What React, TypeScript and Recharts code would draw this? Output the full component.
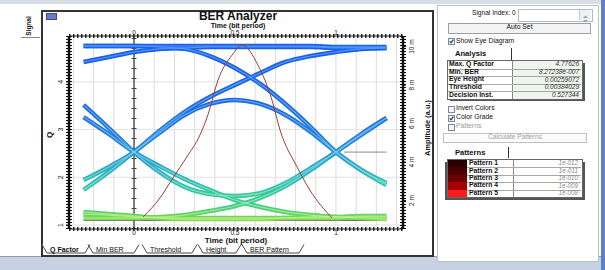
import { LineChart, Line, XAxis, YAxis, ReferenceLine } from 'recharts';

// time axis of the eye traces (bit periods)
const TIME = [-0.25, -0.125, 0, 0.125, 0.25, 0.375, 0.5, 0.625, 0.75, 0.875, 1, 1.125, 1.25];

// eye diagram traces, amplitude in mV (right axis)
const HIGH_FLAT = [10.03, 10.03, 10.03, 10.03, 10.03, 10.03, 10.03, 10.03, 10.03, 10.03, 9.98, 9.98, 9.98];
const HIGH_DIP = [9.2, 9.46, 9.72, 9.88, 9.93, 9.98, 9.98, 9.98, 9.98, 9.98, 9.93, 9.93, 9.93];
const FALL_LATE = [10.03, 10.03, 10.03, 9.98, 9.88, 9.51, 8.89, 8.06, 7.02, 5.82, 4.52, 3.59, 2.91];
const RISE_EARLY = [3.07, 3.75, 4.52, 5.62, 6.6, 7.38, 8.01, 8.63, 9.2, 9.51, 9.72, 9.88, 9.93];
const ARC_UPPER = [2.55, 3.49, 4.52, 5.51, 6.45, 7.02, 7.23, 7.02, 6.45, 5.57, 4.52, 3.59, 2.81];
const ARC_LOWER = [6.97, 5.77, 4.52, 3.49, 2.71, 2.34, 2.24, 2.39, 2.91, 3.69, 4.52, 5.46, 6.29];
const FALL_EARLY = [6.34, 5.46, 4.52, 3.8, 3.12, 2.55, 2.03, 1.67, 1.41, 1.25, 1.15, 1.1, 1.04];
const RISE_LATE = [1.1, 1.1, 1.1, 1.15, 1.25, 1.46, 1.72, 2.14, 2.76, 3.59, 4.52, 5.41, 6.29];
const LOW_A = [1.3, 1.25, 1.15, 1.1, 1.1, 1.1, 1.1, 1.1, 1.1, 1.15, 1.15, 1.2, 1.2];
const LOW_B = [1.41, 1.3, 1.2, 1.1, 1.04, 1.04, 1.04, 1.04, 1.1, 1.1, 1.1, 1.15, 1.15];
const LOW_BASE = [0.99, 0.99, 0.99, 0.99, 0.99, 0.99, 0.99, 0.99, 0.99, 0.99, 0.99, 0.99, 0.99];

const EYE_TRACES = [
  HIGH_FLAT, HIGH_DIP, FALL_LATE, RISE_EARLY, ARC_UPPER, ARC_LOWER,
  FALL_EARLY, RISE_LATE, LOW_B, LOW_A,
];

// Q factor vs decision time (left axis)
const Q_TIME = [0.045, 0.129, 0.193, 0.262, 0.327, 0.366, 0.416, 0.485, 0.535, 0.614, 0.683, 0.723, 0.807, 0.871, 0.98];
const Q_VALUE = [1.17, 1.57, 1.99, 2.43, 2.89, 3.31, 4.04, 4.56, 4.77, 4.35, 3.62, 2.99, 2.22, 1.73, 1.15];

const T_DOMAIN = [-0.322, 1.332];
const Q_DOMAIN = [0.916, 4.962];
const AMP_DOMAIN = [0.525, 10.55];
const T_TICKS = [0, 0.5, 1];
const Q_TICKS = [1, 2, 3, 4];
const AMP_TICKS = [2, 4, 6, 8, 10];
const GRID_T = [-0.3, -0.2, -0.1, 0, 0.1, 0.2, 0.3, 0.4, 0.5, 0.6, 0.7, 0.8, 0.9, 1, 1.1, 1.2, 1.3];

const THRESHOLD_MARK = { from: 1.04, to: 1.25, level: 4.52 };

const ANALYSIS_LABELS = ['Max. Q Factor', 'Min. BER', 'Eye Height', 'Threshold', 'Decision Inst.'];
const ANALYSIS_VALUES = ['4.77626', '8.27238e-007', '0.00259072', '0.00384029', '0.527344'];
const PATTERN_LABELS = ['Pattern 1', 'Pattern 2', 'Pattern 3', 'Pattern 4', 'Pattern 5'];
const PATTERN_BER = ['1e-012', '1e-011', '1e-010', '1e-009', '1e-008'];
const PATTERN_COLORS = ['#2a0000', '#4a0000', '#6e0000', '#a80000', '#ff1a1a'];

const TABS = [
  { label: 'Q Factor', from: 50, to: 82 },
  { label: 'Min BER', from: 96, to: 131 },
  { label: 'Threshold', from: 150, to: 189 },
  { label: 'Height', from: 206, to: 233 },
  { label: 'BER Pattern', from: 250, to: 296 },
];

const FONT = '"Liberation Sans", Arial, Helvetica, sans-serif';

const eyeData = EYE_TRACES.map((vals) => TIME.map((t, i) => ({ t, v: vals[i] })));
const baseData = TIME.map((t, i) => ({ t, v: LOW_BASE[i] }));
const qData = Q_TIME.map((t, i) => ({ t, q: Q_VALUE[i] }));

const Txt = ({ x, cy, size = 6.8, bold = false, italic = false, color = '#111', w, align, children }: any) => (
  <div
    style={{
      position: 'absolute', left: x, top: cy - size * 0.56, fontSize: size, lineHeight: 1,
      fontWeight: bold ? 700 : 400, fontStyle: italic ? 'italic' : 'normal', color,
      whiteSpace: 'nowrap', width: w, textAlign: align,
    }}
  >
    {children}
  </div>
);

const RotTxt = ({ cx, cy, size = 7, bold = false, children }: any) => (
  <div
    style={{
      position: 'absolute', left: cx, top: cy, fontSize: size, lineHeight: 1,
      fontWeight: bold ? 700 : 400, whiteSpace: 'nowrap', color: '#111',
      transform: 'translate(-50%, -50%) rotate(-90deg)',
    }}
  >
    {children}
  </div>
);

const Chk = ({ x, y, checked = false }: any) => (
  <div style={{ position: 'absolute', left: x, top: y, width: 5, height: 5, border: '1px solid #7d8b99', background: '#f2f6fb' }}>
    {checked && (
      <svg width={5} height={5} style={{ position: 'absolute', left: 0, top: 0 }}>
        <path d="M0.7 2.4 L2 3.9 L4.4 0.7" stroke="#1f3a8a" strokeWidth={1.2} fill="none" />
      </svg>
    )}
  </div>
);

const QTick = (props: any) => {
  const { x, y, payload } = props;
  const px = x - 1;
  return (
    <text x={px} y={y} transform={`rotate(-90 ${px} ${y})`} textAnchor="middle" fontSize={7} fill="#222" fontFamily={FONT}>
      {payload.value}
    </text>
  );
};

const AmpTick = (props: any) => {
  const { x, y, payload } = props;
  const px = x + 6;
  return (
    <text x={px} y={y} transform={`rotate(-90 ${px} ${y})`} textAnchor="middle" fontSize={6.5} fill="#222" fontFamily={FONT}>
      {`${payload.value} m`}
    </text>
  );
};

// plot top/bottom in chart coordinates are 25 and 218
const TopTick = (props: any) => (
  <text x={props.x} y={23.6} textAnchor="middle" fontSize={6.5} fill="#222" fontFamily={FONT}>
    {props.payload.value}
  </text>
);

const BottomTick = (props: any) => (
  <text x={props.x} y={224} textAnchor="middle" fontSize={6.5} fill="#222" fontFamily={FONT}>
    {props.payload.value}
  </text>
);

const EyeChart = () => (
  <LineChart width={390} height={243} margin={{ top: 0, right: 0, bottom: 0, left: 0 }}>
    <defs>
      <linearGradient id="eyeGrad" gradientUnits="userSpaceOnUse" x1="0" y1="25" x2="0" y2="218">
        <stop offset="0.05" stopColor="#1d5ee8" />
        <stop offset="0.33" stopColor="#2266e0" />
        <stop offset="0.54" stopColor="#2a7ed8" />
        <stop offset="0.67" stopColor="#2ea8c8" />
        <stop offset="0.77" stopColor="#33c0b0" />
        <stop offset="0.88" stopColor="#3ccf8a" />
        <stop offset="0.94" stopColor="#70d658" />
        <stop offset="1" stopColor="#c8e43c" />
      </linearGradient>
      <linearGradient id="eyeHi" gradientUnits="userSpaceOnUse" x1="0" y1="25" x2="0" y2="218">
        <stop offset="0.05" stopColor="#58a8ff" />
        <stop offset="0.5" stopColor="#6cc4ff" />
        <stop offset="0.8" stopColor="#8ef0d0" />
        <stop offset="1" stopColor="#e0f470" />
      </linearGradient>
    </defs>
    <XAxis
      xAxisId="b" type="number" dataKey="t" domain={T_DOMAIN} ticks={T_TICKS} height={25}
      allowDataOverflow axisLine={{ stroke: '#222' }} tickLine={false} tick={BottomTick}
    />
    <XAxis
      xAxisId="top" orientation="top" type="number" dataKey="t" domain={T_DOMAIN} ticks={T_TICKS}
      height={25} allowDataOverflow axisLine={{ stroke: '#222' }} tickLine={false} tick={TopTick}
    />
    <YAxis
      yAxisId="q" type="number" domain={Q_DOMAIN} ticks={Q_TICKS} width={27} allowDataOverflow
      axisLine={{ stroke: '#111', strokeWidth: 2.5 }} tickLine={{ stroke: '#111' }} tickSize={3}
      tickMargin={2} tick={QTick}
    />
    <YAxis
      yAxisId="amp" orientation="right" type="number" domain={AMP_DOMAIN} ticks={AMP_TICKS} width={29}
      allowDataOverflow axisLine={{ stroke: '#111', strokeWidth: 2.5 }} tickLine={{ stroke: '#111' }}
      tickSize={3} tickMargin={2} tick={AmpTick}
    />
    {GRID_T.map((t) => (
      <ReferenceLine key={`g${t}`} xAxisId="b" yAxisId="amp" x={t} stroke="#dcdcdc" strokeWidth={1} />
    ))}
    {Q_TICKS.map((q) => (
      <ReferenceLine key={`h${q}`} xAxisId="top" yAxisId="q" y={q} stroke="#e2e2e2" strokeWidth={1} />
    ))}
    <ReferenceLine xAxisId="b" yAxisId="amp" x={0} stroke="#444" strokeWidth={1.3} />
    <ReferenceLine xAxisId="b" yAxisId="amp" x={0} stroke="#444" strokeWidth={5} strokeDasharray="1 9" />
    <ReferenceLine xAxisId="top" yAxisId="q" y={Q_DOMAIN[1]} stroke="#222" strokeWidth={4} strokeDasharray="1.5 2.5" ifOverflow="visible" />
    <ReferenceLine xAxisId="top" yAxisId="q" y={Q_DOMAIN[0]} stroke="#222" strokeWidth={4} strokeDasharray="1.5 2.5" ifOverflow="visible" />
    <ReferenceLine xAxisId="top" yAxisId="q" x={T_DOMAIN[0]} stroke="#111" strokeWidth={6} strokeDasharray="1 2" ifOverflow="visible" />
    <ReferenceLine xAxisId="top" yAxisId="q" x={T_DOMAIN[1]} stroke="#111" strokeWidth={6} strokeDasharray="1 2" ifOverflow="visible" />
    <ReferenceLine
      xAxisId="b" yAxisId="amp" stroke="#888" strokeWidth={1}
      segment={[{ x: THRESHOLD_MARK.from, y: THRESHOLD_MARK.level }, { x: THRESHOLD_MARK.to, y: THRESHOLD_MARK.level }]}
    />
    <Line
      data={baseData} xAxisId="b" yAxisId="amp" dataKey="v" type="monotone" stroke="#3c4a3c"
      strokeWidth={1.6} dot={false} isAnimationActive={false}
    />
    {eyeData.map((d, i) => (
      <Line
        key={`e${i}`} data={d} xAxisId="b" yAxisId="amp" dataKey="v" type="monotone"
        stroke="url(#eyeGrad)" strokeWidth={4.5} dot={false} isAnimationActive={false}
      />
    ))}
    {eyeData.map((d, i) => (
      <Line
        key={`h${i}`} data={d} xAxisId="b" yAxisId="amp" dataKey="v" type="monotone"
        stroke="url(#eyeHi)" strokeWidth={1.2} strokeOpacity={0.75} dot={false} isAnimationActive={false}
      />
    ))}
    <Line
      data={qData} xAxisId="top" yAxisId="q" dataKey="q" type="monotone" stroke="#a23b33"
      strokeWidth={1} dot={false} isAnimationActive={false}
    />
  </LineChart>
);

const Tabs = () => (
  <svg width={320} height={12} style={{ position: 'absolute', left: 0, top: 243 }}>
    {TABS.map((tab, i) => {
      const x0 = tab.from - 3;
      const x1 = tab.to + 3;
      const sel = i === 0;
      return (
        <path
          key={tab.label}
          d={`M${x0 - 5} 1.5 L${x0} 10 L${x1} 10 L${x1 + 5} 1.5`}
          fill={sel ? '#fff' : 'none'} stroke="#333" strokeWidth={0.9}
        />
      );
    })}
    {TABS.map((tab, i) => (
      <text key={`t${i}`} x={tab.from} y={9.3} fontSize={7} fontWeight={i === 0 ? 700 : 400} fill="#111" fontFamily={FONT}>
        {tab.label}
      </text>
    ))}
  </svg>
);

const RightPanel = () => (
  <>
    <div style={{ position: 'absolute', left: 437, top: 5, width: 160, height: 255, border: '1px solid #b9c0c8', background: '#fff' }} />
    <Txt x={472} cy={14} size={6.6}>Signal Index: 0</Txt>
    <div style={{ position: 'absolute', left: 518, top: 9, width: 73, height: 11, border: '1px solid #b4bcc4', background: '#fff' }} />
    <div style={{ position: 'absolute', left: 579, top: 10, width: 11, height: 10, background: '#eef1f4', borderLeft: '1px solid #c4cad0' }}>
      <svg width={11} height={10}>
        <path d="M3 4 L5.5 1.5 L8 4 Z" fill="#98a0a8" />
        <path d="M3 6 L5.5 8.5 L8 6 Z" fill="#98a0a8" />
      </svg>
    </div>
    <div style={{ position: 'absolute', left: 448, top: 23, width: 141, height: 9, border: '1px solid #9aa0a8', background: '#f4f4f4' }} />
    <Txt x={448} cy={28} size={6.8} w={143} align="center">Auto Set</Txt>
    <Chk x={448} y={38} checked />
    <Txt x={456} cy={41.5} size={6.8}>Show Eye Diagram</Txt>
    <Txt x={455} cy={54} size={7.6} bold>Analysis</Txt>
    <div style={{ position: 'absolute', left: 511, top: 48, width: 1, height: 12, background: '#333' }} />

    <div style={{ position: 'absolute', left: 450, top: 63, width: 135, height: 38, background: '#555' }} />
    <div style={{ position: 'absolute', left: 447, top: 60, width: 134, height: 38, border: '1px solid #666', background: '#fff' }} />
    <div style={{ position: 'absolute', left: 512, top: 61, width: 69, height: 38, background: '#eef5ec' }} />
    <div style={{ position: 'absolute', left: 512, top: 61, width: 1, height: 38, background: '#888' }} />
    {ANALYSIS_LABELS.map((lab, i) => (
      <div key={lab}>
        {i > 0 && <div style={{ position: 'absolute', left: 448, top: 61 + i * 7.6, width: 133, height: 1, background: '#a8a8a8' }} />}
        <Txt x={449} cy={65 + i * 7.6} size={6.8} bold>{lab}</Txt>
        <Txt x={513} cy={65 + i * 7.6} size={6.5} italic color="#333" w={66} align="right">{ANALYSIS_VALUES[i]}</Txt>
      </div>
    ))}

    <Chk x={448} y={106} />
    <Txt x={456} cy={109} size={6.8}>Invert Colors</Txt>
    <Chk x={448} y={115} checked />
    <Txt x={456} cy={118} size={6.8}>Color Grade</Txt>
    <Chk x={448} y={124} />
    <Txt x={456} cy={127} size={6.8} color="#9a9a9a">Patterns</Txt>

    <div style={{ position: 'absolute', left: 443, top: 133, width: 142, height: 8, border: '1px solid #c0c0c0', background: '#fbfbfb' }} />
    <Txt x={443} cy={137.5} size={6.6} color="#a0a0a0" w={144} align="center">Calculate Patterns</Txt>
    <Txt x={455} cy={153} size={7.6} bold>Patterns</Txt>
    <div style={{ position: 'absolute', left: 508, top: 147, width: 1, height: 11, background: '#333' }} />

    <div style={{ position: 'absolute', left: 445, top: 162, width: 140, height: 38, background: '#555' }} />
    <div style={{ position: 'absolute', left: 447, top: 159, width: 134, height: 37, border: '1px solid #666', background: '#fff' }} />
    <div style={{ position: 'absolute', left: 513, top: 160, width: 1, height: 37, background: '#888' }} />
    {PATTERN_LABELS.map((lab, i) => (
      <div key={lab}>
        <div style={{ position: 'absolute', left: 448, top: 160 + i * 7.4, width: 19, height: 7.4, background: PATTERN_COLORS[i] }} />
        {i > 0 && <div style={{ position: 'absolute', left: 467, top: 160 + i * 7.4, width: 114, height: 1, background: '#a8a8a8' }} />}
        <Txt x={469} cy={164 + i * 7.4} size={6.8} bold>{lab}</Txt>
        <Txt x={514} cy={164 + i * 7.4} size={6.3} italic color="#8a8a8a" w={64} align="right">{PATTERN_BER[i]}</Txt>
      </div>
    ))}
  </>
);

const App = () => (
  <div style={{ position: 'absolute', left: 0, top: 0, width: 605, height: 270, background: '#fff', overflow: 'hidden', fontFamily: FONT }}>
    <div style={{ position: 'absolute', left: 0, top: 0, width: 605, height: 4, background: '#d8dee6' }} />
    <div style={{ position: 'absolute', left: 0, top: 256, width: 605, height: 14, background: '#c6d1e3', borderTop: '1px solid #8e9bb3' }} />
    <div style={{ position: 'absolute', left: 601, top: 0, width: 4, height: 270, background: '#5b82c8' }} />

    <RotTxt cx={29} cy={26} size={6.5} bold>Signal</RotTxt>
    <div style={{ position: 'absolute', left: 21, top: 37, width: 19, height: 1, background: '#888' }} />

    <div style={{ position: 'absolute', left: 41, top: 10, width: 389, height: 243, border: '2px solid #333', background: '#fff' }} />
    <div style={{ position: 'absolute', left: 46, top: 13, width: 9, height: 5, background: '#6a78c8', border: '1px solid #3a4898' }} />
    <div style={{ position: 'absolute', left: 42, top: 11 }}>
      <EyeChart />
    </div>

    <Txt x={160} cy={16.6} size={12} bold w={156} align="center">BER Analyzer</Txt>
    <Txt x={160} cy={26} size={7} bold w={156} align="center">Time (bit period)</Txt>
    <Txt x={160} cy={241.4} size={8} bold w={152} align="center">Time (bit period)</Txt>
    <RotTxt cx={50} cy={135} size={8} bold>Q</RotTxt>
    <RotTxt cx={428} cy={128} size={7.4} bold>Amplitude (a.u.)</RotTxt>
    <Tabs />

    <RightPanel />
  </div>
);

export default App;
